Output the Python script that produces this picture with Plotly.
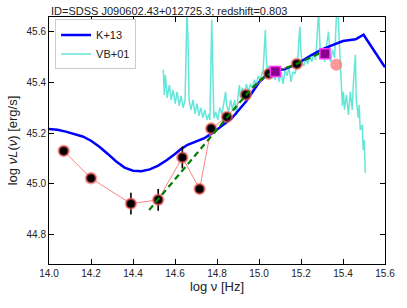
import plotly.graph_objects as go

# ---- data ----
k13_x = [14.0, 14.04, 14.08, 14.12, 14.16, 14.20, 14.24, 14.28, 14.32, 14.36, 14.40, 14.44, 14.48,
         14.52, 14.56, 14.60, 14.63, 14.66, 14.70, 14.74, 14.78, 14.82, 14.87, 14.94, 15.00, 15.04,
         15.08, 15.12, 15.18, 15.25, 15.30, 15.35, 15.40, 15.46, 15.498, 15.60]
k13_y = [45.216, 45.213, 45.206, 45.198, 45.187, 45.170, 45.146, 45.118, 45.088, 45.064, 45.052,
         45.050, 45.057, 45.072, 45.093, 45.118, 45.138, 45.154, 45.168, 45.180, 45.202, 45.228,
         45.258, 45.327, 45.400, 45.432, 45.446, 45.452, 45.472, 45.508, 45.530, 45.547, 45.563,
         45.570, 45.588, 45.460]

vb_x = [14.544, 14.549, 14.554, 14.563, 14.573, 14.582, 14.591, 14.601, 14.610, 14.620, 14.629,
        14.639, 14.648, 14.653, 14.657, 14.662, 14.667, 14.676, 14.686, 14.695, 14.705, 14.714,
        14.723, 14.733, 14.742, 14.752, 14.761, 14.766, 14.771, 14.775, 14.780, 14.785, 14.794,
        14.804, 14.813, 14.823, 14.832, 14.837, 14.841, 14.846, 14.855, 14.865, 14.874, 14.884,
        14.893, 14.902, 14.907, 14.912, 14.921, 14.931, 14.940, 14.950, 14.959, 14.968, 14.978,
        14.987, 14.997, 15.006, 15.016, 15.020, 15.025, 15.030, 15.034, 15.039, 15.049, 15.058,
        15.067, 15.077, 15.086, 15.096, 15.105, 15.115, 15.124, 15.133, 15.143, 15.152, 15.162,
        15.171, 15.181, 15.185, 15.190, 15.195, 15.199, 15.204, 15.214, 15.223, 15.232, 15.242,
        15.251, 15.261, 15.270, 15.275, 15.280, 15.284, 15.289, 15.294, 15.303, 15.313, 15.322,
        15.331, 15.341, 15.350, 15.360, 15.364, 15.369, 15.374, 15.378, 15.383, 15.388, 15.393,
        15.397, 15.402, 15.407, 15.416, 15.426, 15.435, 15.444, 15.449, 15.454, 15.459, 15.463,
        15.473, 15.477, 15.482, 15.492, 15.496, 15.501, 15.506]
vb_y = [45.450, 45.351, 45.430, 45.339, 45.390, 45.331, 45.371, 45.316, 45.363, 45.308, 45.347,
        45.300, 45.331, 45.489, 45.686, 45.568, 45.331, 45.292, 45.331, 45.276, 45.316, 45.268,
        45.300, 45.260, 45.292, 45.252, 45.276, 45.252, 45.489, 45.647, 45.450, 45.260, 45.284,
        45.252, 45.300, 45.276, 45.316, 45.351, 45.363, 45.308, 45.284, 45.331, 45.292, 45.331,
        45.272, 45.363, 45.390, 45.339, 45.379, 45.351, 45.394, 45.363, 45.394, 45.379, 45.410,
        45.394, 45.426, 45.410, 45.442, 45.450, 45.529, 45.607, 45.509, 45.450, 45.465, 45.418,
        45.442, 45.410, 45.458, 45.402, 45.442, 45.394, 45.450, 45.426, 45.458, 45.402, 45.442,
        45.434, 45.465, 45.489, 45.568, 45.619, 45.529, 45.481, 45.465, 45.497, 45.473, 45.505,
        45.481, 45.513, 45.489, 45.568, 45.647, 45.686, 45.568, 45.497, 45.529, 45.481, 45.548,
        45.600, 45.481, 45.529, 45.497, 45.588, 45.667, 45.686, 45.647, 45.548, 45.450, 45.351,
        45.308, 45.363, 45.292, 45.351, 45.272, 45.363, 45.292, 45.390, 45.450, 45.509, 45.331,
        45.260, 45.312, 45.213, 45.233, 45.134, 45.174, 45.043]

phot_x = [14.07, 14.20, 14.39, 14.52, 14.635, 14.717, 14.772, 14.847, 14.937, 15.047, 15.18]
phot_y = [45.13, 45.022, 44.922, 44.937, 45.104, 44.98, 45.218, 45.264, 45.351, 45.434, 45.473]
phot_err = [0, 0, 0.043, 0.043, 0.043, 0, 0, 0, 0, 0, 0]

fit_x = [14.477, 14.95, 15.00, 15.03, 15.08, 15.17, 15.29]
fit_y = [44.897, 45.362, 45.405, 45.425, 45.443, 45.470, 45.515]

sq_x = [15.078, 15.314]
sq_y = [45.443, 45.513]

extra_x = [15.368]
extra_y = [45.470]

x_ticks = [14.0, 14.2, 14.4, 14.6, 14.8, 15.0, 15.2, 15.4, 15.6]
y_ticks = [44.8, 45.0, 45.2, 45.4, 45.6]

FONT = "Liberation Sans, Arial, sans-serif"

fig = go.Figure()
fig.add_trace(go.Scatter(x=vb_x, y=vb_y, mode="lines", name="VB+01",
                         line=dict(color="rgba(64,224,208,0.8)", width=1.5)))
fig.add_trace(go.Scatter(x=k13_x, y=k13_y, mode="lines", name="K+13",
                         line=dict(color="#0000ff", width=2.5)))
fig.update_layout(legend_traceorder="reversed")

fig.add_trace(go.Scatter(x=phot_x, y=phot_y, mode="lines", showlegend=False,
                         line=dict(color="rgba(250,110,110,0.85)", width=1)))
fig.add_trace(go.Scatter(x=phot_x, y=phot_y, mode="markers", showlegend=False,
                         error_y=dict(type="data", array=phot_err, color="black",
                                      thickness=1.6, width=0),
                         marker=dict(color="black", size=10,
                                     line=dict(color="rgba(255,90,90,0.6)", width=2.5))))
fig.add_trace(go.Scatter(x=fit_x, y=fit_y, mode="lines", showlegend=False,
                         line=dict(color="#008000", width=2.2, dash="6px,4px")))
fig.add_trace(go.Scatter(x=sq_x, y=sq_y, mode="markers", showlegend=False,
                         marker=dict(symbol="square", color="#8b008b", size=10,
                                     line=dict(color="#ff33ff", width=1.5))))
fig.add_trace(go.Scatter(x=extra_x, y=extra_y, mode="markers", showlegend=False,
                         marker=dict(color="rgba(255,110,110,0.7)", size=12,
                                     line=dict(width=0))))

axis_common = dict(showline=True, linecolor="black", linewidth=1, mirror="allticks",
                   ticks="inside", ticklen=5, tickwidth=1.2, tickcolor="black",
                   showgrid=False, zeroline=False,
                   tickfont=dict(family=FONT, size=10, color="#222"))

fig.update_xaxes(range=[14.0, 15.6], tickvals=x_ticks,
                 ticktext=[f"{v:.1f}" for v in x_ticks], ticklabeloverflow="allow",
                 title=dict(text="log ν [Hz]", font=dict(family=FONT, size=13, color="#222"),
                            standoff=3),
                 **axis_common)
fig.update_yaxes(range=[44.684, 45.658], tickvals=y_ticks,
                 ticktext=[f"{v:.1f}" for v in y_ticks],
                 title=dict(text="log <i>νL</i>(<i>ν</i>) [erg/s]",
                            font=dict(family=FONT, size=13, color="#222"), standoff=5),
                 **axis_common)

fig.update_layout(
    width=407, height=308,
    margin=dict(l=49, r=18, t=17, b=44),
    paper_bgcolor="white", plot_bgcolor="white",
    showlegend=True,
    legend=dict(x=0.018, y=0.99, xanchor="left", yanchor="top",
                bgcolor="white", bordercolor="#cccccc", borderwidth=1,
                font=dict(family=FONT, size=11, color="#222"),
                itemwidth=30, tracegroupgap=0),
    annotations=[dict(text="ID=SDSS J090602.43+012725.3; redshift=0.803",
                      xref="paper", yref="paper", x=0, y=1, xanchor="left",
                      yanchor="bottom", showarrow=False, yshift=-2,
                      font=dict(family=FONT, size=11, color="#222"))],
)

fig.write_html("out.html", config={"displayModeBar": False},
               post_script="document.body.style.margin='0';document.body.style.padding='0';")
